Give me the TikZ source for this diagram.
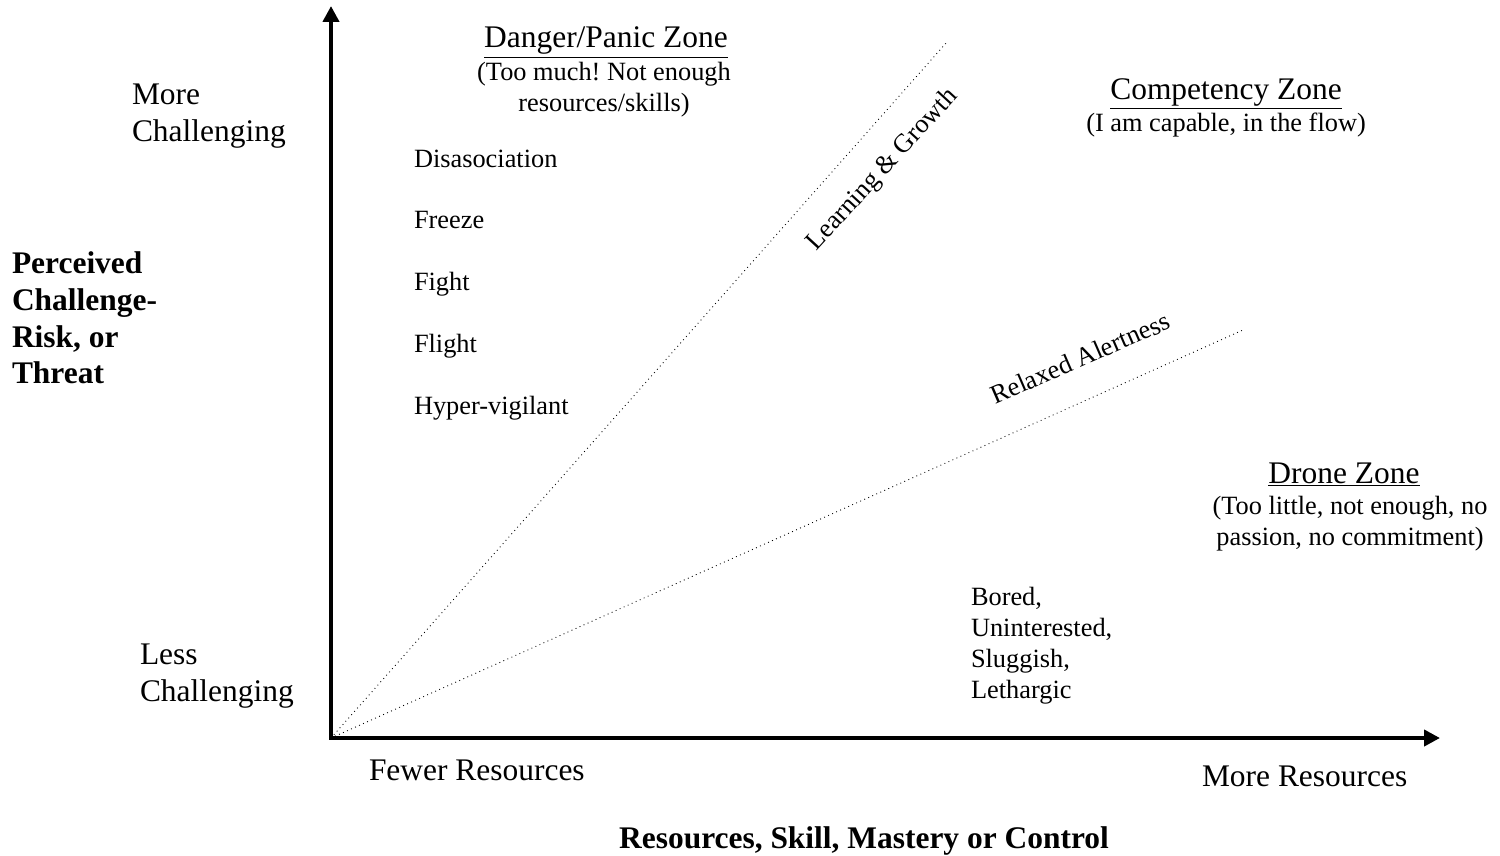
\documentclass[tikz,border=0pt]{standalone}
\usepackage{fontspec}
\setmainfont{Liberation Serif}
\usetikzlibrary{arrows.meta}
\frenchspacing

\begin{document}
\begin{tikzpicture}[x=0.02cm,y=-0.02cm]
\tikzstyle{every node}=[inner sep=0pt, outer sep=0pt]
\tikzstyle{big}=[font=\fontsize{17.9}{20.8}\selectfont]
\tikzstyle{small}=[font=\fontsize{15}{17.6}\selectfont]
\tikzstyle{axis}=[line width=2.8pt, line cap=rect, -{Triangle[length=9pt,width=9pt]}]
\tikzstyle{zoneline}=[dotted, line width=0.5pt]
\useasboundingbox (0,0) rectangle (1500,855);
% axes
\coordinate (o) at (331,738);
\coordinate (ytop) at (331,6);
\coordinate (xend) at (1440,738);
\draw[axis] (o) -- (ytop);
\draw[axis] (o) -- (xend);
% zone borders
\coordinate (g) at (947,42);
\coordinate (r) at (1243,330);
\draw[zoneline] (o) -- (g);
\draw[zoneline] (o) -- (r);
\node (learn) [small, rotate=47.5] at (883,170) {Learning \& Growth};
\node (relax) [small, rotate=23.5] at (1080,358) {Relaxed Alertness};
% axis labels
\node (more) [big, anchor=west, align=left] at (132,116) {More\\Challenging};
\node (less) [big, anchor=west, align=left] at (140,676) {Less\\Challenging};
\node (perc) [big, anchor=west, align=left, font=\fontsize{17.9}{20.8}\selectfont\bfseries] at (12,318) {Perceived\\Challenge-\\Risk, or\\Threat};
\node (fewer) [big, anchor=base west] at (369,780) {Fewer Resources};
\node (moreres) [big, anchor=base west] at (1202,786) {More Resources};
\node (xlabel) [big, anchor=base, font=\fontsize{17.9}{20.8}\selectfont\bfseries] at (864,848) {Resources, Skill, Mastery or Control};
% danger zone
\node (danger) [big, anchor=base] at (606,48) {\underline{Danger/Panic Zone}};
\node (dangersub) [small, align=center] at (604,90) {(Too much! Not enough\\resources/skills)};
\node (dis) [small, anchor=base west] at (414,167) {Disasociation};
\node (freeze) [small, anchor=base west] at (414,228) {Freeze};
\node (fight) [small, anchor=base west] at (414,290) {Fight};
\node (flight) [small, anchor=base west] at (414,352) {Flight};
\node (hyper) [small, anchor=base west] at (414,414) {Hyper-vigilant};
% competency zone
\node (comp) [big, anchor=base] at (1226,99) {\underline{Competency Zone}};
\node (compsub) [small, anchor=base] at (1226,132) {(I am capable, in the flow)};
% drone zone
\node (drone) [big, anchor=base] at (1344,483) {\underline{Drone Zone}};
\node (dronesub) [small, align=center] at (1350,524) {(Too little, not enough, no\\passion, no commitment)};
\node (bored) [small, anchor=west, align=left] at (971,646) {Bored,\\Uninterested,\\Sluggish,\\Lethargic};
\end{tikzpicture}
\end{document}
